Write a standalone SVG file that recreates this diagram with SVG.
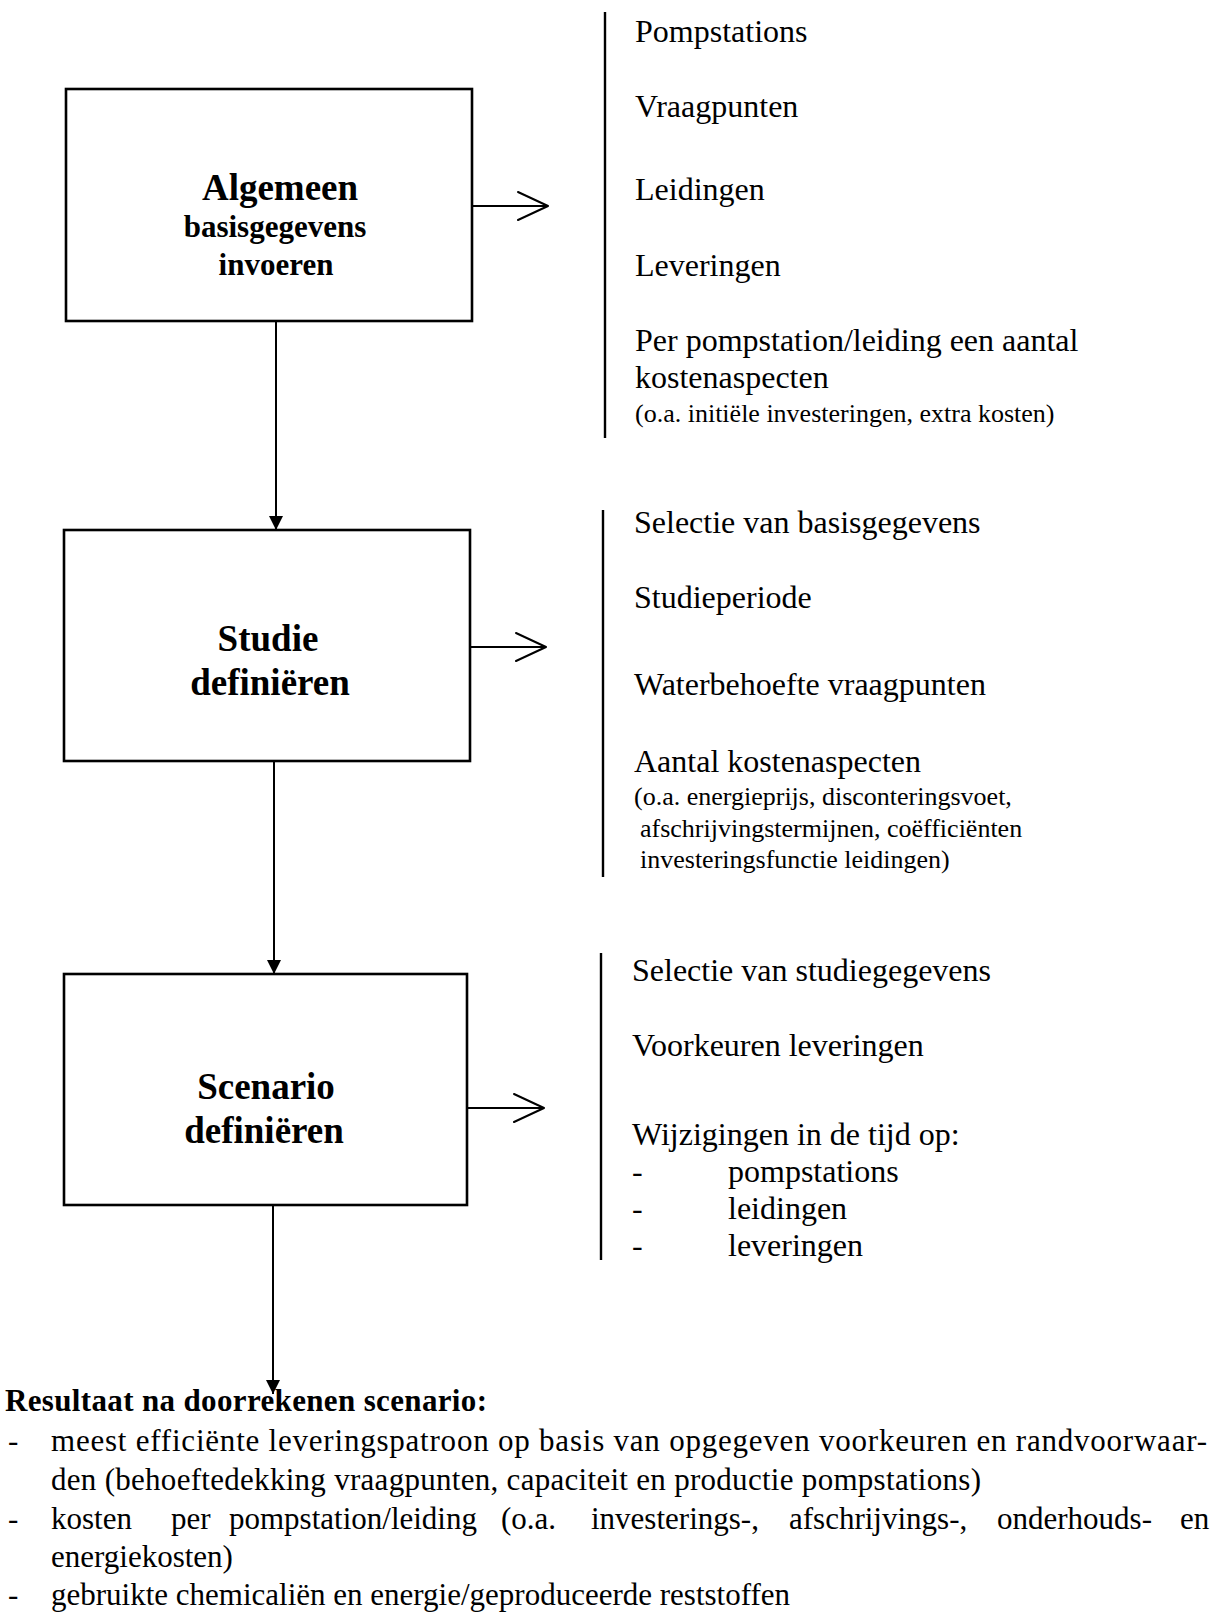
<svg xmlns="http://www.w3.org/2000/svg" width="1214" height="1614" viewBox="0 0 1214 1614">
<style>
.box{fill:#fff;stroke:#000;stroke-width:2.6}
.ln{stroke:#000;stroke-width:2;fill:none}
.bar{stroke:#000;stroke-width:2.4}
.chev{stroke:#000;stroke-width:2;fill:none;stroke-linecap:round;stroke-linejoin:round}
.h{font-family:"Liberation Serif","Times New Roman",serif;font-weight:bold;fill:#000;text-anchor:middle}
.t{font-family:"Liberation Serif","Times New Roman",serif;font-size:32px;fill:#000}
.s{font-family:"Liberation Serif","Times New Roman",serif;font-size:26px;fill:#000}
.b{font-family:"Liberation Serif","Times New Roman",serif;font-size:31px;fill:#000}
</style>
<defs>
<marker id="ah" markerUnits="userSpaceOnUse" markerWidth="14" markerHeight="16" refX="14" refY="7" orient="auto">
<path d="M0,0 L14,7 L0,14 Z" fill="#000"/>
</marker>
</defs>

<g id="node-algemeen">
<rect class="box" x="66" y="89" width="406" height="232"/>
<text class="h" x="280" y="200" font-size="37">Algemeen</text>
<text class="h" x="275" y="237" font-size="31">basisgegevens</text>
<text class="h" x="276" y="275" font-size="31">invoeren</text>
</g>

<g id="node-studie">
<rect class="box" x="64" y="530" width="406" height="231"/>
<text class="h" x="268" y="651" font-size="37">Studie</text>
<text class="h" x="270" y="695" font-size="37">definiëren</text>
</g>

<g id="node-scenario">
<rect class="box" x="64" y="974" width="403" height="231"/>
<text class="h" x="266" y="1099" font-size="37">Scenario</text>
<text class="h" x="264" y="1143" font-size="37">definiëren</text>
</g>

<g id="list-algemeen">
<line class="bar" x1="605" y1="12" x2="605" y2="438"/>
<text class="t" x="635" y="42">Pompstations</text>
<text class="t" x="635" y="117">Vraagpunten</text>
<text class="t" x="635" y="200">Leidingen</text>
<text class="t" x="635" y="276">Leveringen</text>
<text class="t" x="635" y="351">Per pompstation/leiding een aantal</text>
<text class="t" x="635" y="388">kostenaspecten</text>
<text class="s" x="635" y="422">(o.a. initiële investeringen, extra kosten)</text>
</g>

<g id="list-studie">
<line class="bar" x1="603" y1="510" x2="603" y2="877"/>
<text class="t" x="634" y="533">Selectie van basisgegevens</text>
<text class="t" x="634" y="608">Studieperiode</text>
<text class="t" x="634" y="695">Waterbehoefte vraagpunten</text>
<text class="t" x="634" y="772">Aantal kostenaspecten</text>
<text class="s" x="634" y="805">(o.a. energieprijs, disconteringsvoet,</text>
<text class="s" x="640" y="837">afschrijvingstermijnen, coëfficiënten</text>
<text class="s" x="640" y="868">investeringsfunctie leidingen)</text>
</g>

<g id="list-scenario">
<line class="bar" x1="601" y1="953" x2="601" y2="1260"/>
<text class="t" x="632" y="981">Selectie van studiegegevens</text>
<text class="t" x="632" y="1056">Voorkeuren leveringen</text>
<text class="t" x="632" y="1145">Wijzigingen in de tijd op:</text>
<text class="t" x="632" y="1182">-</text>
<text class="t" x="728" y="1182">pompstations</text>
<text class="t" x="632" y="1219">-</text>
<text class="t" x="728" y="1219">leidingen</text>
<text class="t" x="632" y="1256">-</text>
<text class="t" x="728" y="1256">leveringen</text>
</g>

<g id="result">
<text class="b" x="5" y="1411" font-size="32" font-weight="bold" textLength="482" lengthAdjust="spacing">Resultaat na doorrekenen scenario:</text>
<text class="b" x="8" y="1451">-</text>
<text class="b" x="51" y="1451" textLength="1156" lengthAdjust="spacing">meest efficiënte leveringspatroon op basis van opgegeven voorkeuren en randvoorwaar-</text>
<text class="b" x="51" y="1490" textLength="930" lengthAdjust="spacing">den (behoeftedekking vraagpunten, capaciteit en productie pompstations)</text>
<text class="b" x="8" y="1529">-</text>
<text class="b" y="1529"><tspan x="51">kosten</tspan> <tspan x="171">per</tspan> <tspan x="229">pompstation/leiding</tspan> <tspan x="501">(o.a.</tspan> <tspan x="591">investerings-,</tspan> <tspan x="789">afschrijvings-,</tspan> <tspan x="997">onderhouds-</tspan> <tspan x="1180">en</tspan></text>
<text class="b" x="51" y="1567">energiekosten)</text>
<text class="b" x="8" y="1605">-</text>
<text class="b" x="51" y="1605">gebruikte chemicaliën en energie/geproduceerde reststoffen</text>
</g>

<g id="connectors">
<line class="ln" x1="276" y1="321" x2="276" y2="530" marker-end="url(#ah)"/>
<line class="ln" x1="274" y1="761" x2="274" y2="974" marker-end="url(#ah)"/>
<line class="ln" x1="273" y1="1205" x2="273" y2="1394" marker-end="url(#ah)"/>
<line class="ln" x1="472" y1="206" x2="548" y2="206"/>
<path class="chev" d="M518,192 L548,206 L518,220"/>
<line class="ln" x1="470" y1="647" x2="546" y2="647"/>
<path class="chev" d="M516,633 L546,647 L516,661"/>
<line class="ln" x1="467" y1="1108" x2="544" y2="1108"/>
<path class="chev" d="M514,1094 L544,1108 L514,1122"/>
</g>
</svg>
